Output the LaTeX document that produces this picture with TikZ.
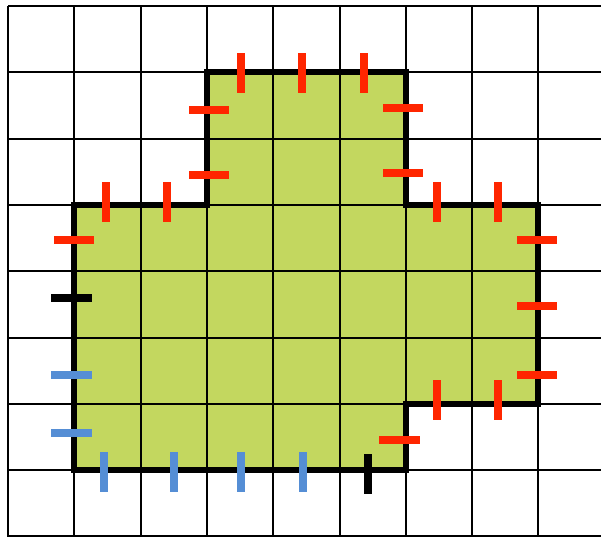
\documentclass[tikz,border=0pt]{standalone}
\definecolor{shapegreen}{RGB}{195,215,95}
\definecolor{tickred}{RGB}{255,38,0}
\definecolor{tickblue}{RGB}{85,142,213}
\begin{document}
\begin{tikzpicture}[x=1pt,y=-1pt,
  gridline/.style={line width=2pt,black},
  outline/.style={line width=6pt,black,line join=miter},
  tickmark/.style={line width=8pt},
  redtick/.style={tickmark,tickred},
  bluetick/.style={tickmark,tickblue},
  blacktick/.style={tickmark,black}]
\useasboundingbox (0,0) rectangle (601,536);
\clip (0,0) rectangle (601,536);
\fill[white] (0,0) rectangle (601,536);
% corner coordinates of the shape
\coordinate (p1) at (206.9,72.3);
\coordinate (p2) at (405.8,72.3);
\coordinate (p3) at (405.8,205);
\coordinate (p4) at (538.4,205);
\coordinate (p5) at (538.4,403.8);
\coordinate (p6) at (405.8,403.8);
\coordinate (p7) at (405.8,470.1);
\coordinate (p8) at (74.3,470.1);
\coordinate (p9) at (74.3,205);
\coordinate (p10) at (206.9,205);
\fill[shapegreen] (p1) -- (p2) -- (p3) -- (p4) -- (p5) -- (p6) -- (p7) -- (p8) -- (p9) -- (p10) -- cycle;
% grid
\foreach \k in {0,...,9} \draw[gridline] ({8+66.3*\k},6) -- ({8+66.3*\k},545);
\foreach \k in {0,...,8} \draw[gridline] (8,{6+66.3*\k}) -- (610,{6+66.3*\k});
% outline
\draw[outline] (p1) -- (p2) -- (p3) -- (p4) -- (p5) -- (p6) -- (p7) -- (p8) -- (p9) -- (p10) -- cycle;
% red ticks
\foreach \x in {241,302,364} \draw[redtick] (\x,53) -- (\x,93);
\foreach \y in {110,175} \draw[redtick] (189,\y) -- (229,\y);
\foreach \y in {108,173} \draw[redtick] (383,\y) -- (423,\y);
\foreach \x in {106,167,437,498} \draw[redtick] (\x,182) -- (\x,222);
\draw[redtick] (54,240) -- (94,240);
\foreach \y in {240,306,375} \draw[redtick] (517,\y) -- (557,\y);
\foreach \x in {437,498} \draw[redtick] (\x,380) -- (\x,420);
\draw[redtick] (379,440) -- (420,440);
% black ticks
\draw[blacktick] (51,298) -- (92,298);
\draw[blacktick] (368,454) -- (368,494);
% blue ticks
\foreach \y in {375,433} \draw[bluetick] (51,\y) -- (92,\y);
\foreach \x in {104,174,241,303} \draw[bluetick] (\x,452) -- (\x,492);
\end{tikzpicture}
\end{document}
